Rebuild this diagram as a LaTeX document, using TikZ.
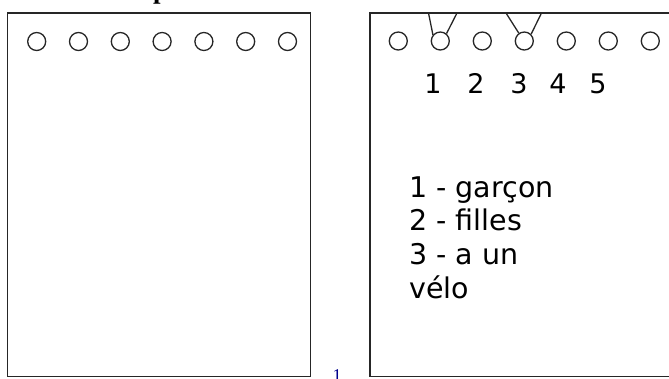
\documentclass[tikz,border=0pt]{standalone}
\usepackage{fontspec}
\setmainfont{Liberation Serif}
\setsansfont{DejaVu Sans}
\usepackage{xcolor}
\usetikzlibrary{positioning}
\definecolor{linkblue}{rgb}{0.00,0.00,0.55}

\begin{document}
\begin{tikzpicture}[x=1pt, y=-1pt,
      card/.style={draw=black!85, line width=1.8pt},
      hole/.style={draw=black!85, circle, line width=1.3pt,
                   minimum size=18pt, inner sep=0pt},
      notch/.style={draw=black!85, line width=1.3pt},
      num/.style={font=\sffamily\fontsize{27}{27}\selectfont, inner sep=0pt,
                  anchor=base},
      note/.style={font=\sffamily\fontsize{28.5}{33}\selectfont,
                   inner sep=0pt, anchor=base west},
      ttl/.style={font=\bfseries\fontsize{27}{27}\selectfont, inner sep=0pt}
  ]
    \useasboundingbox (0,0) rectangle (669,378);
    \clip (0,0) rectangle (669,378);
    % title, cut at the top
    \node[ttl, anchor=base west] (title) at (30,-2) {Les cartes perforées :};
    % left card
    \draw[card] (7.5,13) rectangle (310.5,376.5);
    \node[hole] (l1) at (36.7,41.5) {};
    \node[hole, right=22.5pt of l1] (l2) {};
    \node[hole, right=22.5pt of l2] (l3) {};
    \node[hole, right=22.5pt of l3] (l4) {};
    \node[hole, right=22.5pt of l4] (l5) {};
    \node[hole, right=22.5pt of l5] (l6) {};
    \node[hole, right=22.5pt of l6] (l7) {};
    % right card
    \draw[card] (370,13) rectangle (690,376.5);
    \node[hole] (r1) at (398.3,41) {};
    \node[hole, right=22.7pt of r1] (r2) {};
    \node[hole, right=22.7pt of r2] (r3) {};
    \node[hole, right=22.7pt of r3] (r4) {};
    \node[hole, right=22.7pt of r4] (r5) {};
    \node[hole, right=22.7pt of r5] (r6) {};
    \node[hole, right=22.7pt of r6] (r7) {};
    % notches
    \coordinate (t2a) at (428.5,13);
    \coordinate (t2b) at (457,13);
    \coordinate (t4a) at (506,13);
    \coordinate (t4b) at (541.5,13);
    \draw[notch] (r2.140) -- (t2a);
    \draw[notch] (r2.50) -- (t2b);
    \draw[notch] (r4.125) -- (t4a);
    \draw[notch] (r4.45) -- (t4b);
    % numbers
    \node[num] (n1) at (433,93) {1};
    \node[num] (n2) at (476,93) {2};
    \node[num] (n3) at (519,93) {3};
    \node[num] (n4) at (558,93) {4};
    \node[num] (n5) at (598,93) {5};
    % legend
    \node[note] (g1) at (409,197) {1 - garçon};
    \node[note] (g2) at (409,230.7) {2 - filles};
    \node[note] (g3) at (409,264.3) {3 - a un};
    \node[note] (g4) at (409,298) {vélo};
    \node[font=\fontsize{18}{18}\selectfont, text=linkblue, anchor=north,
          inner sep=0pt] (foot) at (337,369) {1};
  \end{tikzpicture}
\end{document}
